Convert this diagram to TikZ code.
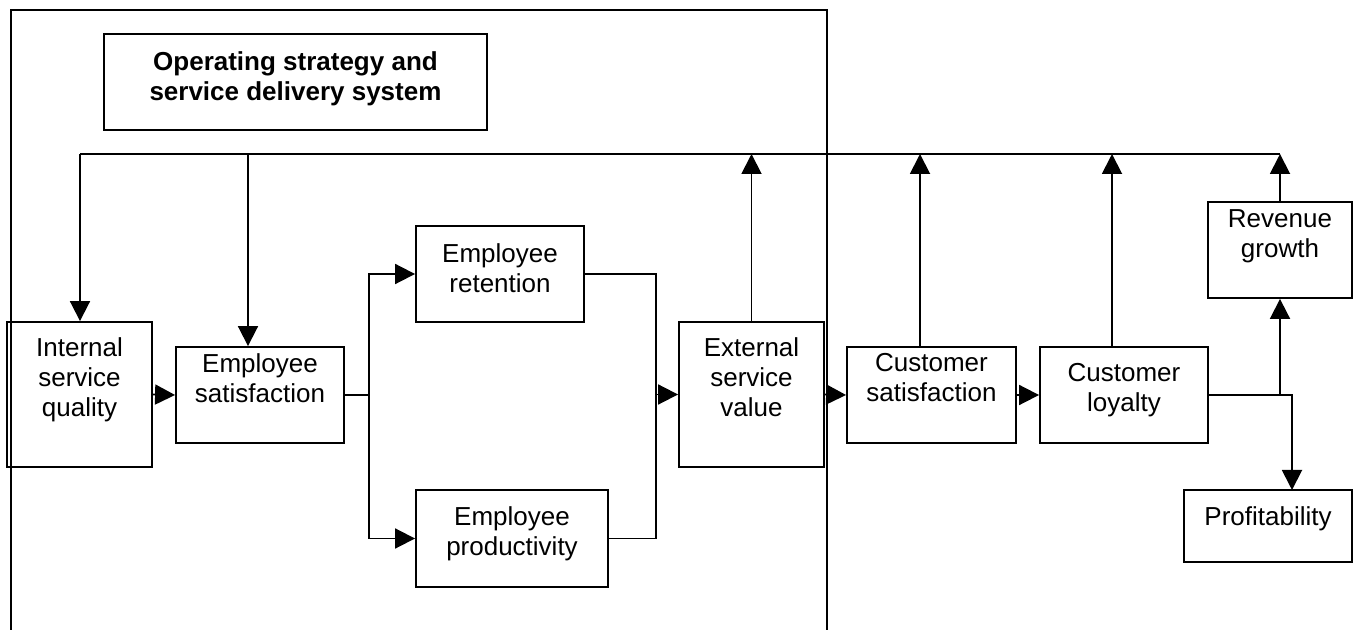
\documentclass[tikz,border=0pt]{standalone}
\usepackage{fontspec}
\setmainfont{Liberation Sans}
\usetikzlibrary{arrows.meta,calc}
\newcommand\diafont{\fontsize{19.5}{22.5}\selectfont}
\begin{document}
\begin{tikzpicture}[x={(0.75pt,0)},y={(0,-0.75pt)},
  line width=1.4pt,
  box/.style={draw, rectangle, inner sep=0pt, line width=1.4pt},
  lbl/.style={inner sep=0pt, anchor=north, align=center, font=\diafont},
  arr/.style={-{Triangle[length=15pt,width=15pt]}}]
\useasboundingbox (0,0) rectangle (1360,630);
% frame of the operating strategy area
\draw (11,632) -- (11,10) -- (827,10) -- (827,632);
% boxes
\node[box, minimum width=287.25pt, minimum height=72pt] (op) at (295.5,82) {};
\node[box, minimum width=108.75pt, minimum height=108.75pt] (isq) at (79.5,394.5) {};
\node[box, minimum width=126pt, minimum height=72pt] (esat) at (260,395) {};
\node[box, minimum width=126pt, minimum height=72pt] (ret) at (500,274) {};
\node[box, minimum width=144pt, minimum height=72.75pt] (prod) at (512,538.5) {};
\node[box, minimum width=108.75pt, minimum height=108.75pt] (ext) at (751.5,394.5) {};
\node[box, minimum width=126.75pt, minimum height=72pt] (csat) at (931.5,395) {};
\node[box, minimum width=126pt, minimum height=72pt] (loy) at (1124,395) {};
\node[box, minimum width=108pt, minimum height=72pt] (rev) at (1280,250) {};
\node[box, minimum width=126pt, minimum height=54pt] (prof) at (1268,526) {};
% labels
\node[lbl, font=\diafont\bfseries] (opT) at ($(op.north)+(0,16)$) {\strut Operating strategy and\\service delivery system};
\node[lbl] (isqT) at ($(isq.north)+(0,14)$) {\strut Internal\\service\\quality};
\node[lbl] (esatT) at ($(esat.north)+(0,5)$) {\strut Employee\\satisfaction};
\node[lbl] (retT) at ($(ret.north)+(0,16)$) {\strut Employee\\retention};
\node[lbl] (prodT) at ($(prod.north)+(0,15)$) {\strut Employee\\productivity};
\node[lbl] (extT) at ($(ext.north)+(0,14)$) {\strut External\\service\\value};
\node[lbl] (csatT) at ($(csat.north)+(0,4)$) {\strut Customer\\satisfaction};
\node[lbl] (loyT) at ($(loy.north)+(0,14)$) {\strut Customer\\loyalty};
\node[lbl] (revT) at ($(rev.north)+(0,5)$) {\strut Revenue\\growth};
\node[lbl] (profT) at ($(prof.north)+(0,15)$) {\strut Profitability};
% feedback bus
\coordinate (busL) at (80,154);
\coordinate (busR) at (rev.north |- busL);
\coordinate (bEs) at (248,154);
\coordinate (bCs) at (920,154);
\coordinate (bLy) at (1112,154);
\draw (busL) -- (busR);
\draw[arr] (busL) -- (busL |- isq.north);
\draw[arr] (bEs) -- (bEs |- esat.north);
\draw[arr] (ext.north) -- (ext.north |- busL);
\draw[arr] (bCs |- csat.north) -- (bCs);
\draw[arr] (bLy |- loy.north) -- (bLy);
\draw[arr] (rev.north) -- (busR);
% main chain
\draw[arr] (isq.east) -- (esat.west);
\draw[arr] (esat.east) -- ++(24,0) |- (ret.west);
\draw[arr] (esat.east) -- ++(24,0) |- (prod.west);
\coordinate (mrg) at (656,394.5);
\draw (ret.east) -| (mrg);
\draw (prod.east) -| (mrg);
\draw[arr] (mrg) -- (ext.west);
\draw[arr] (ext.east) -- (csat.west);
\draw[arr] (csat.east) -- (loy.west);
\coordinate (profIn) at (1292,490);
\draw[arr] (loy.east) -| (profIn);
\draw[arr] (rev.south |- loy.east) -- (rev.south);
\end{tikzpicture}
\end{document}
